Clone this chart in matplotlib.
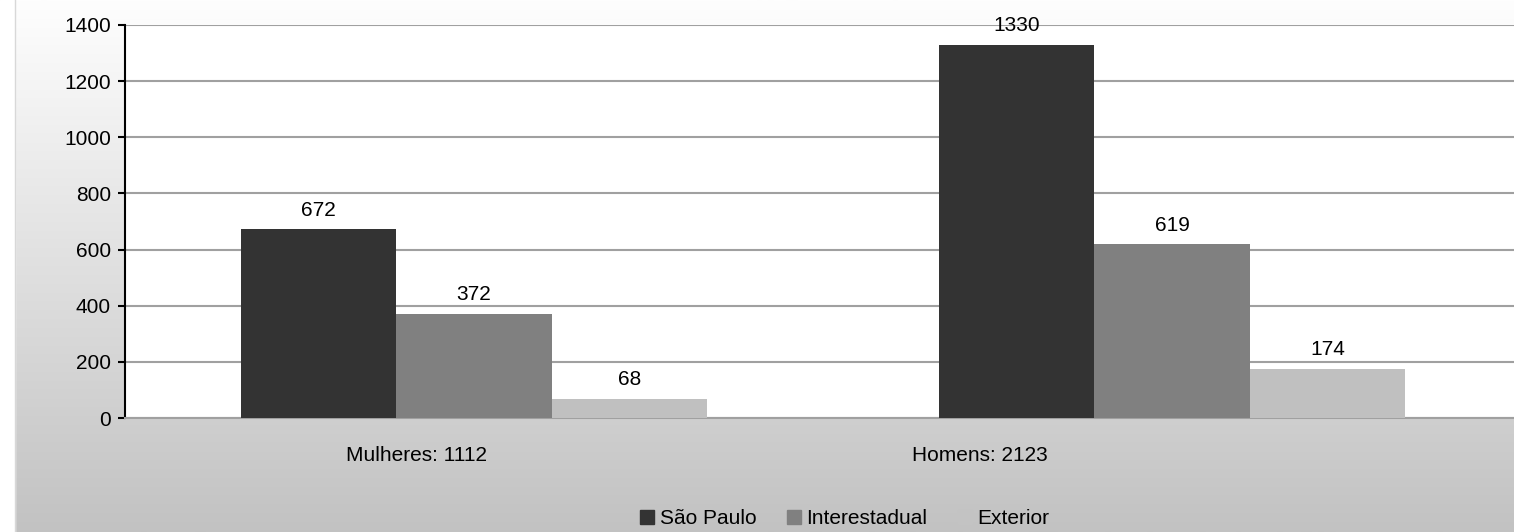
import numpy as np
import matplotlib
matplotlib.use("Agg")
import matplotlib.pyplot as plt
from matplotlib.lines import Line2D

categories = ["Mulheres: 1112", "Homens: 2123"]
series = ["São Paulo", "Interestadual", "Exterior"]
sao_paulo = [672, 1330]
interestadual = [372, 619]
exterior = [68, 174]
values = [sao_paulo, interestadual, exterior]
colors = ["#333333", "#808080", "#c0c0c0"]
yticks = [0, 200, 400, 600, 800, 1000, 1200, 1400]

plt.rcParams["font.family"] = ["Liberation Sans", "DejaVu Sans"]
FS = 15

W, H = 1514, 532
fig = plt.figure(figsize=(W / 100, H / 100), dpi=100)

# gradient background
bg = fig.add_axes([0, 0, 1, 1], zorder=-10)
grad = np.linspace(254, 194, 200).reshape(-1, 1) / 255.0
bg.imshow(np.dstack([grad, grad, grad]), aspect="auto", extent=[0, 1, 0, 1])
bg.axvspan(0, 15 / W, color="white")
bg.axvline(15 / W, color="#d8d8d8", lw=1)
bg.set_xlim(0, 1)
bg.set_ylim(0, 1)
bg.axis("off")

ax = fig.add_axes([125 / W, 1 - 418 / H, 1 - 125 / W, (418 - 25) / H])
ax.set_facecolor("white")

x = np.arange(len(categories))
width = 0.223
for i, (name, vals) in enumerate(zip(series, values)):
    pos = x + (i - 1) * width
    ax.bar(pos, vals, width, color=colors[i], zorder=3, label=name)
    for p, v in zip(pos, vals):
        ax.annotate(str(v), (p, v), xytext=(0, 7), textcoords="offset points",
                    ha="center", va="bottom", fontsize=FS, color="black")

ax.set_xlim(-0.5, 1.49)
ax.set_ylim(0, 1400)
ax.set_yticks(yticks)
ax.tick_params(axis="y", length=5, width=1.5, color="black", labelsize=FS, pad=5)
ax.tick_params(axis="x", length=0, labelsize=FS, pad=20)
# Excel placed the category labels off-centre
ax.set_xticks([-0.083, 0.725])
ax.set_xticklabels(categories)
ax.grid(axis="y", color="#a0a0a0", lw=1.5, zorder=0)
for s in ["top", "right"]:
    ax.spines[s].set_visible(False)
ax.spines["left"].set_color("black")
ax.spines["left"].set_linewidth(1.5)
ax.spines["bottom"].set_color("#a0a0a0")
ax.spines["bottom"].set_linewidth(1.5)

handles = [Line2D([], [], marker="s", ls="none", markersize=10, color=c) for c in colors]
handles[2] = Line2D([], [], marker="s", ls="none", markersize=10, color="#c3c3c3")
fig.legend(handles, series, loc="center", bbox_to_anchor=(843 / W, 1 - 519 / H), ncol=3,
           frameon=False, fontsize=FS, handletextpad=0.1, columnspacing=1.3, handlelength=1.0)

fig.savefig("out.png", dpi=100)
